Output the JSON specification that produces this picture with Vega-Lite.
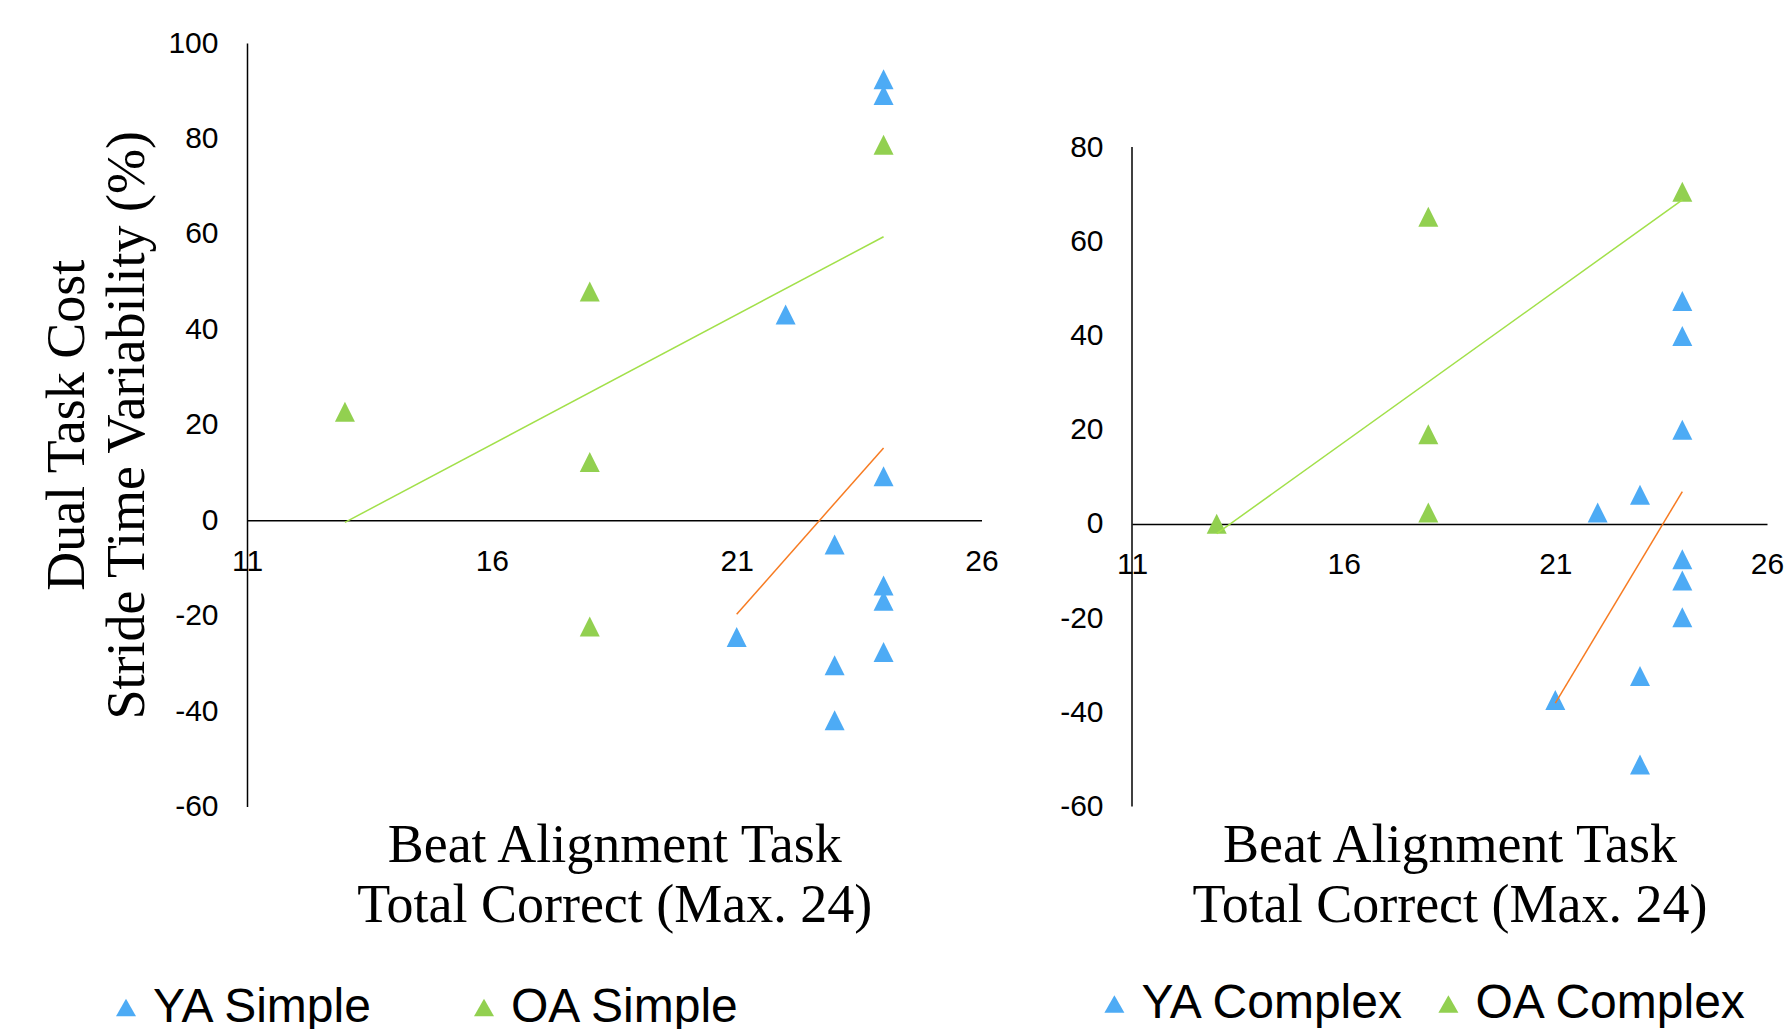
{
  "$schema": "https://vega.github.io/schema/vega-lite/v6.json",
  "padding": {"left": 40, "top": 28, "right": 0, "bottom": 0},
  "background": "white",
  "config": {
    "view": {"stroke": null},
    "axis": {
      "grid": false, "ticks": false, "tickSize": 0, "labelFlush": false,
      "domainColor": "black", "domainWidth": 1.5,
      "labelFont": "Liberation Sans", "labelFontSize": 30, "labelColor": "black",
      "labelExpr": "'' + datum.value",
      "titleFont": "Liberation Serif", "titleFontSize": 54, "titleFontWeight": "normal",
      "titleColor": "black", "titleLineHeight": 60
    },
    "legend": {
      "orient": "none", "direction": "horizontal", "padding": 0,
      "labelFont": "Liberation Sans", "labelFontSize": 48, "labelColor": "black",
      "labelLimit": 600, "symbolType": "triangle-up", "symbolSize": 400,
      "symbolStrokeWidth": 0, "symbolOpacity": 1, "labelOffset": 3
    }
  },
  "datasets": {
    "pts": [
      {"panel": "Simple", "group": "YA Simple", "x": 24, "y": 92.4},
      {"panel": "Simple", "group": "YA Simple", "x": 24, "y": 89.1},
      {"panel": "Simple", "group": "YA Simple", "x": 22, "y": 43.1},
      {"panel": "Simple", "group": "YA Simple", "x": 24, "y": 9.2},
      {"panel": "Simple", "group": "YA Simple", "x": 23, "y": -5.1},
      {"panel": "Simple", "group": "YA Simple", "x": 24, "y": -13.7},
      {"panel": "Simple", "group": "YA Simple", "x": 24, "y": -16.9},
      {"panel": "Simple", "group": "YA Simple", "x": 24, "y": -27.6},
      {"panel": "Simple", "group": "YA Simple", "x": 21, "y": -24.5},
      {"panel": "Simple", "group": "YA Simple", "x": 23, "y": -30.4},
      {"panel": "Simple", "group": "YA Simple", "x": 23, "y": -41.9},
      {"panel": "Simple", "group": "OA Simple", "x": 13, "y": 22.7},
      {"panel": "Simple", "group": "OA Simple", "x": 18, "y": 47.9},
      {"panel": "Simple", "group": "OA Simple", "x": 18, "y": 12.2},
      {"panel": "Simple", "group": "OA Simple", "x": 18, "y": -22.3},
      {"panel": "Simple", "group": "OA Simple", "x": 24, "y": 78.7},
      {"panel": "Complex", "group": "YA Complex", "x": 22, "y": 2.4},
      {"panel": "Complex", "group": "YA Complex", "x": 23, "y": 6.2},
      {"panel": "Complex", "group": "YA Complex", "x": 24, "y": 47.3},
      {"panel": "Complex", "group": "YA Complex", "x": 24, "y": 39.9},
      {"panel": "Complex", "group": "YA Complex", "x": 24, "y": 20.0},
      {"panel": "Complex", "group": "YA Complex", "x": 24, "y": -7.5},
      {"panel": "Complex", "group": "YA Complex", "x": 24, "y": -12.0},
      {"panel": "Complex", "group": "YA Complex", "x": 24, "y": -19.8},
      {"panel": "Complex", "group": "YA Complex", "x": 23, "y": -32.3},
      {"panel": "Complex", "group": "YA Complex", "x": 23, "y": -51.1},
      {"panel": "Complex", "group": "YA Complex", "x": 21, "y": -37.4},
      {"panel": "Complex", "group": "OA Complex", "x": 13, "y": 0.0},
      {"panel": "Complex", "group": "OA Complex", "x": 18, "y": 65.2},
      {"panel": "Complex", "group": "OA Complex", "x": 18, "y": 19.0},
      {"panel": "Complex", "group": "OA Complex", "x": 18, "y": 2.4},
      {"panel": "Complex", "group": "OA Complex", "x": 24, "y": 70.5}
    ]
  },
  "spacing": 60,
  "resolve": {"scale": {"color": "independent"}, "legend": {"color": "independent"}},
  "hconcat": [
    {
      "width": 734.5, "height": 763.5,
      "data": {"name": "pts"},
      "transform": [{"filter": "datum.panel == 'Simple'"}],
      "layer": [
        {
          "mark": {"type": "point", "shape": "M0,-1L1,1L-1,1Z", "filled": true, "opacity": 1, "size": 400, "strokeWidth": 0},
          "encoding": {
            "x": {"field": "x", "type": "quantitative",
              "scale": {"domain": [11, 26], "nice": false, "zero": false},
              "axis": {"values": [11, 16, 21, 26], "offset": -286.3, "labelPadding": 26,
                "title": ["Beat Alignment Task", "Total Correct (Max. 24)"],
                "titleY": 341.5, "titleBaseline": "alphabetic"}},
            "y": {"field": "y", "type": "quantitative",
              "scale": {"domain": [-60, 100], "nice": false, "zero": false},
              "axis": {"values": [-60, -40, -20, 0, 20, 40, 60, 80, 100], "labelPadding": 29,
                "title": ["Dual Task Cost", "Stride Time Variability (%)"],
                "titleX": -163.3, "titleBaseline": "alphabetic"}},
            "color": {"field": "group", "type": "nominal",
              "scale": {"domain": ["YA Simple", "OA Simple"], "range": ["#4dabf5", "#92d050"]},
              "legend": {"title": null, "legendX": -145, "legendY": 940.5, "columnPadding": 86}}
          }
        },
        {
          "transform": [{"filter": "datum.group == 'YA Simple'"}, {"regression": "y", "on": "x"}],
          "mark": {"type": "line", "color": "#f77b22", "strokeWidth": 1.5},
          "encoding": {"x": {"field": "x", "type": "quantitative"}, "y": {"field": "y", "type": "quantitative"}}
        },
        {
          "transform": [{"filter": "datum.group == 'OA Simple'"}, {"regression": "y", "on": "x"}],
          "mark": {"type": "line", "color": "#a2e04a", "strokeWidth": 1.5},
          "encoding": {"x": {"field": "x", "type": "quantitative"}, "y": {"field": "y", "type": "quantitative"}}
        }
      ]
    },
    {
      "width": 635, "height": 763.5,
      "data": {"name": "pts"},
      "transform": [{"filter": "datum.panel == 'Complex'"}],
      "layer": [
        {
          "data": {"values": [{"x0": 11, "ylo": -60, "yhi": 80}]},
          "mark": {"type": "rule", "color": "black", "strokeWidth": 1.5},
          "encoding": {
            "x": {"field": "x0", "type": "quantitative"},
            "y": {"field": "ylo", "type": "quantitative"},
            "y2": {"field": "yhi"}
          }
        },
        {
          "mark": {"type": "point", "shape": "M0,-1L1,1L-1,1Z", "filled": true, "opacity": 1, "size": 400, "strokeWidth": 0},
          "encoding": {
            "x": {"field": "x", "type": "quantitative",
              "scale": {"domain": [11, 26], "nice": false, "zero": false},
              "axis": {"values": [11, 16, 21, 26], "offset": -282.6, "labelPadding": 26,
                "title": ["Beat Alignment Task", "Total Correct (Max. 24)"],
                "titleY": 338, "titleBaseline": "alphabetic"}},
            "y": {"field": "y", "type": "quantitative",
              "scale": {"domain": [-60, 102.08], "nice": false, "zero": false},
              "axis": {"values": [-60, -40, -20, 0, 20, 40, 60, 80], "labelPadding": 29, "title": null, "domain": false}},
            "color": {"field": "group", "type": "nominal",
              "scale": {"domain": ["YA Complex", "OA Complex"], "range": ["#4dabf5", "#92d050"]},
              "legend": {"title": null, "legendX": -41.6, "legendY": 937, "columnPadding": 19}}
          }
        },
        {
          "transform": [{"filter": "datum.group == 'YA Complex'"}, {"regression": "y", "on": "x"}],
          "mark": {"type": "line", "color": "#f77b22", "strokeWidth": 1.5},
          "encoding": {"x": {"field": "x", "type": "quantitative"}, "y": {"field": "y", "type": "quantitative"}}
        },
        {
          "transform": [{"filter": "datum.group == 'OA Complex'"}, {"regression": "y", "on": "x"}],
          "mark": {"type": "line", "color": "#a2e04a", "strokeWidth": 1.5},
          "encoding": {"x": {"field": "x", "type": "quantitative"}, "y": {"field": "y", "type": "quantitative"}}
        }
      ]
    }
  ]
}
